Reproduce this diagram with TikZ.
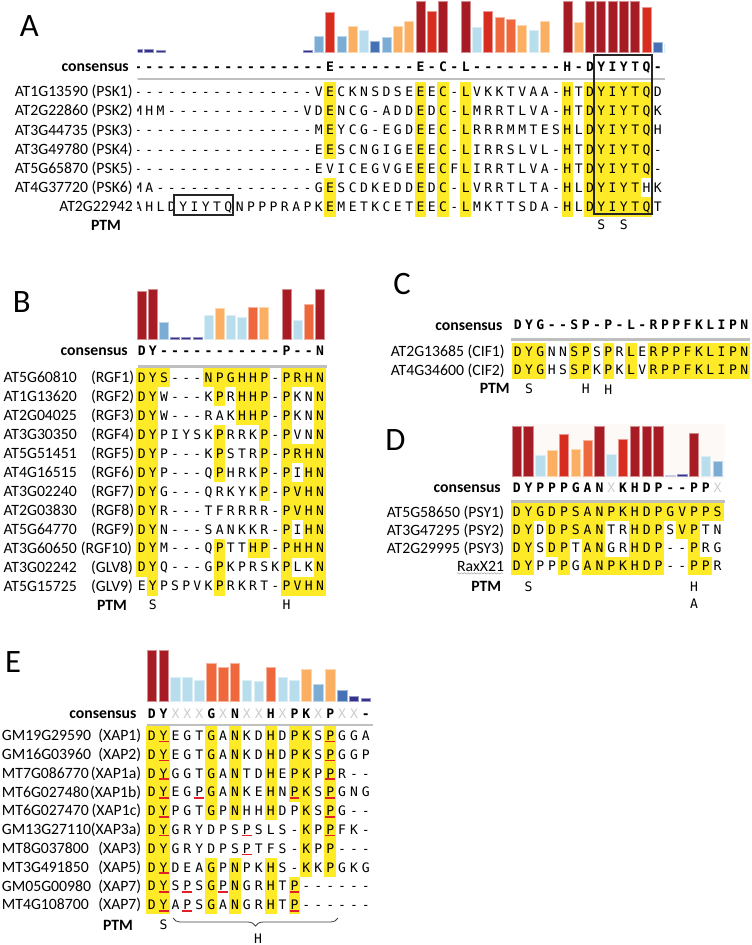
\documentclass[tikz,border=0pt]{standalone}
\usepackage{fontspec}
\setmainfont{Carlito}
\newfontfamily\seqfont{DejaVu Sans Mono}
\usetikzlibrary{decorations.pathreplacing, decorations.pathmorphing}

\definecolor{hl}{RGB}{255,234,40}
\definecolor{dred}{RGB}{166,27,36}
\definecolor{rd}{RGB}{215,45,32}
\definecolor{ord}{RGB}{238,103,61}
\definecolor{org}{RGB}{250,175,98}
\definecolor{lbl}{RGB}{184,222,238}
\definecolor{mbl}{RGB}{122,172,212}
\definecolor{bl}{RGB}{70,113,180}
\definecolor{nv}{RGB}{52,50,140}
\definecolor{lav}{RGB}{152,148,202}
\definecolor{ured}{RGB}{226,32,40}
\definecolor{cream}{RGB}{252,249,246}

\tikzset{
  res/.style={font=\seqfont\fontsize{9.8}{11}\selectfont, inner sep=0pt, anchor=base, yshift=-3.55pt},
  cons/.style={res, font=\seqfont\bfseries\fontsize{9.8}{11}\selectfont},
  lab/.style={font=\fontsize{11.8}{14}\selectfont, inner sep=0pt, anchor=base east, yshift=-3.75pt},
  labl/.style={lab, anchor=base west},
  labb/.style={lab, font=\bfseries\fontsize{11.8}{14}\selectfont},
  ptm/.style={labb, anchor=base},
  panel/.style={font=\fontsize{24.5}{28}\selectfont, inner sep=0pt, anchor=base, yshift=-7.9pt},
  sepline/.style={draw=black!25, line width=2.2pt},
  boxline/.style={draw=black!85, line width=1.5pt},
  uline/.style={draw=ured, line width=1.1pt},
  sq/.style={res}
}

% one row of residues (#2) with its marks (#3): o yellow, u underline, b both
\newcommand\seqrow[3]{\tikzset{sq/.style={res}}\def\sqy{#1}\let\sqx\xo\sqmark#3\relax\let\sqx\xo\sqres#2\relax}
\newcommand\consrow[2]{\tikzset{sq/.style={cons}}\def\sqy{#1}\let\sqx\xo\sqres#2\relax}
\def\sqmark#1{\ifx#1\relax\else
  \ifx#1o\fill[hl] (\sqx-\dx/2,\sqy-\rowh/2) rectangle ++(\dx,\rowh);\fi
  \ifx#1b\fill[hl] (\sqx-\dx/2,\sqy-\rowh/2) rectangle ++(\dx,\rowh);\fi
  \ifx#1u\draw[uline] (\sqx-\dx/2+1,\sqy+5.9) -- ++(\dx-2,0);\fi
  \ifx#1b\draw[uline] (\sqx-\dx/2+1,\sqy+5.9) -- ++(\dx-2,0);\fi
  \pgfmathsetmacro\sqx{\sqx+\dx}\expandafter\sqmark\fi}
\def\sqres#1{\ifx#1\relax\else
  \ifx#1X\node[res, text=black!20] at (\sqx,\sqy) {X};\else\node[sq] at (\sqx,\sqy) {#1};\fi
  \pgfmathsetmacro\sqx{\sqx+\dx}\expandafter\sqres\fi}
% conservation bars: column/height/colour
\newcommand\bars[2]{\foreach \bk/\bh/\bc in {#2}
  \filldraw[fill=\bc, draw=\bc!50!white, line width=0.5] (\xo+\bk*\dx-0.4*\dx,#1) rectangle ++(0.8*\dx,-\bh);}

\begin{document}
\begin{tikzpicture}[x=0.75pt, y=-0.75pt]
\useasboundingbox (0,0) rectangle (752,945);

% ---------------- Panel A
\node[panel] (pA) at (29.3,25.5) {A};
\def\xo{138}\def\dx{11.3}\def\rowh{19.2}
\begin{scope}
  \clip (137.5,0) rectangle (665,240);
  \bars{52.3}{0/2.5/nv, 1/3/nv, 2/2/nv, 15/2/nv, 16/16.3/mbl, 17/40/rd, 18/16.3/mbl, 19/26.3/org,
    20/22.3/lbl, 21/10.6/bl, 22/14.6/mbl, 23/26.3/org, 24/30.6/org, 25/50.6/dred, 26/41.3/rd,
    27/50.6/dred, 29/50.6/dred, 30/24.6/lbl, 31/40.6/rd, 32/34.6/ord, 33/33.3/ord, 34/27.3/org,
    35/21.6/lbl, 36/30.6/org, 38/50.6/dred, 39/29.6/org, 40/50.6/dred, 41/50.6/dred, 42/50.6/dred,
    43/50.6/dred, 44/50.6/dred, 45/44.6/rd, 46/10/bl, 47/8/lbl}
  \consrow{67}{----------------- E ------- E-C-L -------- H-D YIYTQ -}
  \draw[sepline] (130,79) -- (665,79);
  \seqrow{91.7}{---------------- VECKNSDSEEEC-LVKKTVAA-HTDYIYTQD}
    {................. o ....... o.o.o ........ o. oooooo .}
  \seqrow{110.9}{MHM ------------ VDENCG-ADDEDC-LMRRTLVA-HTDYIYTQK}
    {................. o ....... o.o.o ........ o. oooooo .}
  \seqrow{130.1}{---------------- MEYCG-EGDEEC-LRRRMMTESHLDYIYTQH}
    {................. o ....... o.o.o ........ o. oooooo .}
  \seqrow{149.3}{---------------- EESCNGIGEEEC-LIRRSLVL-HTDYIYTQ-}
    {................. o ....... o.o.o ........ o. oooooo .}
  \seqrow{168.5}{---------------- EVICEGVGEEECFLIRRTLVA-HTDYIYTQ-}
    {................. . ....... o.o.o ........ o. oooooo .}
  \seqrow{187.7}{MA -------------- GESCDKEDDEDC-LVRRTLTA-HLDYIYTHK}
    {................. o ....... o.o.o ........ o. ooooo. .}
  \seqrow{206.9}{AHLDYIYTQNPPPRAPK EMETKCETEEC-LMKTTSDA-HLDYIYTQT}
    {................. o ....... o.o.o ........ o. oooooo .}
\end{scope}
\draw[boxline] (594,55) rectangle (651.5,214);
\draw[boxline] (173.5,194.5) rectangle (233,214.5);
\node[labb] (consA) at (129,67) {consensus};
\node[lab] (psk1) at (133,91.7) {AT1G13590 (PSK1)};
\node[lab] (psk2) at (133,110.9) {AT2G22860 (PSK2)};
\node[lab] (psk3) at (133,130.1) {AT3G44735 (PSK3)};
\node[lab] (psk4) at (133,149.3) {AT3G49780 (PSK4)};
\node[lab] (psk5) at (133,168.5) {AT5G65870 (PSK5)};
\node[lab] (psk6) at (133,187.7) {AT4G37720 (PSK6)};
\node[lab] (at2g) at (133,206.9) {AT2G22942};
\node[ptm] (ptmA) at (106,225) {PTM};
\node[res] (sA1) at (601.3,225) {S};
\node[res] (sA2) at (623.9,225) {S};

% ---------------- Panel B
\node[panel] (pB) at (21.7,301.7) {B};
\def\xo{141.7}\def\dx{11.14}\def\rowh{18.95}
\bars{339}{0/47.3/dred, 1/50/dred, 2/16.3/mbl, 3/2/nv, 4/2/nv, 5/2/nv, 6/23.3/lbl, 7/31/org,
  8/24/lbl, 9/21.7/lbl, 10/31.3/ord, 11/31.3/org, 13/50/dred, 14/19/lbl, 15/34.7/ord, 16/50/dred}
\consrow{350.7}{DY ----------- P--N}
\draw[sepline] (138,366.3) -- (327,366.3);
\seqrow{377.7}{DYS---NPGHHP-PRHN}{ooo ... oooooo . oooo}
\seqrow{396.6}{DYW---KPRHHP-PKNN}{oo . ... . o . ooo . o .. o}
\seqrow{415.6}{DYW---RAKHHP-PKNN}{oo . ... ... ooo . o .. o}
\seqrow{434.5}{DYPIYSKPRRKP-PVNN}{oo ..... o ... o . o .. o}
\seqrow{453.5}{DYP---KPSTRP-PRHN}{oo ..... o ... o . oooo}
\seqrow{472.4}{DYP---QPHRKP-PIHN}{oo ..... o ... o . o . oo}
\seqrow{491.4}{DYG---QRKYKP-PVHN}{oo ......... o . oooo}
\seqrow{510.3}{DYR---TFRRRR-PVHN}{oo ........... oooo}
\seqrow{529.3}{DYN---SANKKR-PIHN}{oo ........... o . oo}
\seqrow{548.2}{DYM---QPTTHP-PHHN}{oo ..... o .. oo . oooo}
\seqrow{567.2}{DYQ---GPKPRSKPLKN}{oo ..... o ..... o .. o}
\seqrow{586.1}{EYPSPVKPRKRT-PVHN}{. o ..... o ..... oooo}
\node[labb] (consB) at (128,350.7) {consensus};
\foreach \nm/\pp/\px [count=\i from 0] in {AT5G60810/RGF1/90.8, AT1G13620/RGF2/90.8,
    AT2G04025/RGF3/90.8, AT3G30350/RGF4/90.8, AT5G51451/RGF5/90.8, AT4G16515/RGF6/90.8,
    AT3G02240/RGF7/90.8, AT2G03830/RGF8/90.8, AT5G64770/RGF9/90.8, AT3G60650/RGF10/80.7,
    AT3G02242/GLV8/90.8, AT5G15725/GLV9/90.8}{
  \node[labl] (bn\i) at (3.3,377.7+18.95*\i) {\nm};
  \node[labl] (bp\i) at (\px,377.7+18.95*\i) {(\pp)};
}
\node[ptm] (ptmB) at (112,605) {PTM};
\node[res] (sB) at (152.8,605) {S};
\node[res] (hB) at (286.5,605) {H};

% ---------------- Panel C
\node[panel] (pC) at (402,284) {C};
\def\xo{517.7}\def\dx{11.33}\def\rowh{18.3}
\consrow{325}{DYG--SP-P-L-RPPFKLIPN}
\draw[sepline] (511,339.3) -- (750,339.3);
\seqrow{351.7}{DYGNNSPSPRLERPPFKLIPN}{ooo .. oo . o . o . ooooooooo}
\seqrow{370}{DYGHSSPKPKLVRPPFKLIPN}{ooo .. oo . o . o . ooooooooo}
\node[labb] (consC) at (502.7,325) {consensus};
\node[lab] (cif1) at (505,351.7) {AT2G13685 (CIF1)};
\node[lab] (cif2) at (505,370) {AT4G34600 (CIF2)};
\node[ptm] (ptmC) at (494.7,388.3) {PTM};
\node[res] (sC) at (529,388.3) {S};
\node[res] (hC1) at (585.7,388.3) {H};
\node[res] (hC2) at (608.3,390) {H};

% ---------------- Panel D
\node[panel] (pD) at (395.5,440) {D};
\def\xo{516.7}\def\dx{11.82}\def\rowh{18}
\fill[cream] (511.7,424) rectangle (725,478.5);
\bars{476.7}{0/50/dred, 1/50/dred, 2/21/lbl, 3/26.7/org, 4/42.7/rd, 5/27.7/org, 6/36/ord,
  7/50/dred, 8/22.4/lbl, 9/37.7/rd, 10/50/dred, 11/50/dred, 12/50/dred, 13/1.5/lav, 14/2.5/nv,
  15/43.4/dred, 16/20.7/lbl, 17/15/mbl}
\consrow{487.7}{DYPPPGANXKHDP--PPX}
\draw[sepline] (511,501.7) -- (725,501.7);
\seqrow{512}{DYGDPSANPKHDPGVPPS}{oooooooooooooooooo}
\seqrow{530}{DYDDPSANTRHDPSVPTN}{oo . ooooo .. ooo . oo ..}
\seqrow{548}{DYSDPTANGRHDP--PRG}{oo . oo . oo .. ooo .. o ..}
\seqrow{566}{DYPPPGANPKHDP--PPR}{oo .. o . ooooooo .. oo .}
\node[labb] (consD) at (501,487.7) {consensus};
\node[lab] (psy1) at (504.3,512) {AT5G58650 (PSY1)};
\node[lab] (psy2) at (504.3,530) {AT3G47295 (PSY2)};
\node[lab] (psy3) at (504.3,548) {AT2G29995 (PSY3)};
\node[lab] (raxx) at (504.3,566) {RaxX21};
\draw[gray!70, decorate, decoration={snake, amplitude=0.5pt, segment length=2.5pt}]
  (raxx.south west) ++(0,2) -- ++(46,0);
\node[ptm] (ptmD) at (486.3,586.7) {PTM};
\node[res] (sD) at (528.5,586.7) {S};
\node[res] (hD) at (694,586.7) {H};
\node[res] (aD) at (694,603.3) {A};

% ---------------- Panel E
\node[panel] (pE) at (13,661.7) {E};
\def\xo{151.7}\def\dx{11.9}\def\rowh{18.8}
\bars{701}{0/51/dred, 1/51/dred, 2/23.3/lbl, 3/24/lbl, 4/21/lbl, 5/38/ord, 6/34/ord, 7/38/ord,
  8/20.3/lbl, 9/19.3/lbl, 10/34/ord, 11/23.7/lbl, 12/20.3/lbl, 13/31.7/org, 14/17/mbl,
  15/31.7/org, 16/11/bl, 17/5/nv, 18/3/nv}
\consrow{713.3}{DYXXXGXNXXHXPKXPXX-}
\draw[sepline] (147,725) -- (373,725);
\seqrow{735.7}{DYEGTGANKDHDPKSPGGA}{ob ... o . o .. o . oo . b ...}
\seqrow{754.5}{DYEGTGANKDHDPKSPGGP}{ob ... o . o .. o . oo . b ...}
\seqrow{773.3}{DYGGTGANTDHEPKPPR--}{ob ... o . o .. o . oo . b ...}
\seqrow{792.1}{DYEGPGANKEHNPKSPGNG}{ob .. u o . o .. o . bo . b ...}
\seqrow{810.9}{DYPGTGPNHHHDPKSPG--}{ob ... o . o .. o .. o . b ...}
\seqrow{829.7}{DYGRYDPSPSLS-KPPFK-}{ob ...... u .... o . b ...}
\seqrow{848.5}{DYGRYDPSPTFS-KPP---}{oo ...... u .... o . o ...}
\seqrow{867.3}{DYDEAGPNPKHS-KKPGKG}{ob ... o . o .. o .. o . o ...}
\seqrow{886.1}{DYSPSGPNGRHTP------}{ob . u . o u o .. o . b ......}
\seqrow{904.9}{DYAPSGANGRHTP------}{ob . u . o . o .. o . b ......}
\node[labb] (consE) at (136.7,713.3) {consensus};
\foreach \nm/\pp [count=\i from 0] in {GM19G29590/XAP1, GM16G03960/XAP2, MT7G086770/XAP1a,
    MT6G027480/XAP1b, MT6G027470/XAP1c, GM13G27110/XAP3a, MT8G037800/XAP3,
    MT3G491850/XAP5, GM05G00980/XAP7, MT4G108700/XAP7}{
  \node[labl] (en\i) at (1.7,735.7+18.8*\i) {\nm};
  \node[lab] (ep\i) at (141.5,735.7+18.8*\i) {(\pp)};
}
\node[ptm] (ptmE) at (118,925) {PTM};
\node[res] (sE) at (163.6,925) {S};
\draw[decorate, decoration={brace, mirror, amplitude=6pt}, line width=0.6pt, black!75]
  (173,918) -- (338,918);
\node[res] (hE) at (258,938.3) {H};

\end{tikzpicture}
\end{document}
